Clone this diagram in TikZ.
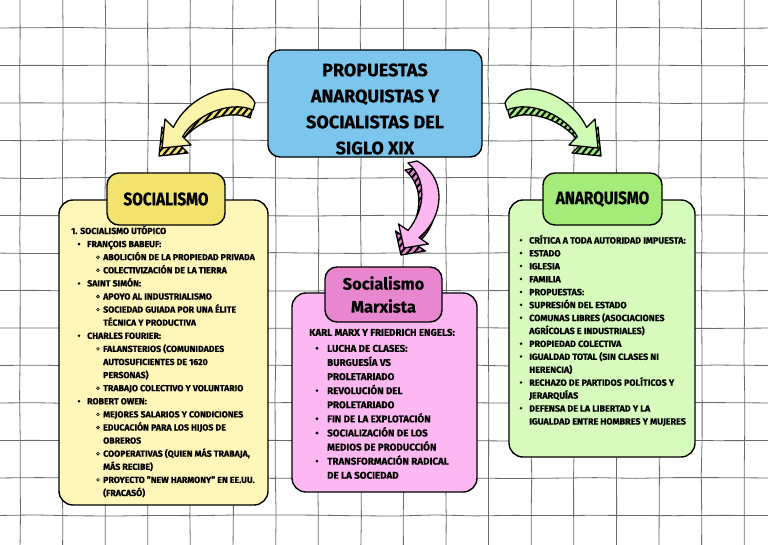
\documentclass[tikz,border=0pt]{standalone}
\usepackage{fontspec}
\setmainfont{Fira Sans}[BoldFeatures={FakeBold=0.6}]
\newfontfamily\narrowfont{Fira Sans}[FakeStretch=0.85, BoldFeatures={FakeBold=0.6}]
\usetikzlibrary{positioning,decorations.pathmorphing,patterns.meta}
\definecolor{gridgray}{HTML}{6A6A6A}
\definecolor{sky}{HTML}{7CC6EE}
\definecolor{lemon}{HTML}{F2E36F}
\definecolor{lemonlight}{HTML}{FFF6B9}
\definecolor{lemonfront}{HTML}{FBF3A8}
\definecolor{rose}{HTML}{E887CF}
\definecolor{roselight}{HTML}{FDB8F1}
\definecolor{lime}{HTML}{A5EB7A}
\definecolor{limelight}{HTML}{D6FBBC}
\definecolor{limefront}{HTML}{CFFBB4}

% outlines of the bent arrows (pixel coordinates)
\def\bentpath{(505,103) .. controls (518,75) and (570,92) .. (586.6,127.4) -- (595,119) -- (598,148) -- (569,145) -- (577.4,136.6) .. controls (565,115) and (530,100) .. (507,110) -- cycle}
\def\downpath{(408,163) -- (417,161) .. controls (446,176) and (446,215) .. (419,237.6) -- (428.4,244) -- (404,248) -- (398.6,224) -- (408,230.4) .. controls (425,210) and (428,180) .. (408,163) -- cycle}

% #1 path, #2 front colour, #3 side colour, #4 shift of the side
\newcommand{\solidarrow}[4]{%
  \begin{scope}[shift={#4}]
    \fill[#3] #1;
    \fill[pattern={Lines[angle=50,distance=5pt,line width=2pt]}, pattern color=black] #1;
    \draw[line width=1.3pt, line join=round] #1;
  \end{scope}
  \filldraw[fill=#2, line width=1.3pt, line join=round] #1;}

\begin{document}
\begin{tikzpicture}[x=1pt,y=-1pt,
  gridline/.style={draw=gridgray, line width=0.8pt, decorate,
    decoration={random steps, segment length=40pt, amplitude=0.6pt}},
  box/.style={draw=black, line width=1.4pt, rounded corners=14pt, inner sep=0pt, outer sep=0pt},
  headbox/.style={box, rounded corners=12pt},
  headtext/.style={inner sep=0pt, font=\narrowfont\fontsize{18}{20}\selectfont\bfseries},
  soctext/.style={anchor=base west, inner sep=0pt, font=\fontsize{8.8}{10}\selectfont\bfseries},
  marxtext/.style={anchor=base west, inner sep=0pt, font=\fontsize{9.8}{12}\selectfont\bfseries},
  anartext/.style={anchor=base west, inner sep=0pt, font=\fontsize{9}{11}\selectfont\bfseries}]
  \pgfmathsetseed{7}
  \useasboundingbox (0,0) rectangle (768,544);
  \fill[white] (0,0) rectangle (768,544);

  % squared paper
  \foreach \k in {0,...,17}
    \draw[gridline] ({20+42.6*\k},-5) -- ({20+42.6*\k},550);
  \foreach \k in {0,...,13}
    \draw[gridline] (-5,{28+37.5*\k}) -- (775,{28+37.5*\k});

  % bent arrows
  \solidarrow{\bentpath}{limefront}{lime}{(3,8)}
  \begin{scope}[shift={(760,0)}, xscale=-1]
    \solidarrow{\bentpath}{lemonfront}{lemon}{(3,8)}
  \end{scope}
  \solidarrow{\downpath}{roselight}{rose}{(-3,7)}

  % title
  \node[box, rounded corners=12pt, fill=sky, minimum width=214pt, minimum height=107pt] (title) at (375,103.5) {};
  \node[align=center, inner sep=0pt, font=\fontsize{18}{26}\selectfont\bfseries] (title-text) at (375,109)
    {PROPUESTAS\\ANARQUISTAS Y\\SOCIALISTAS DEL\\SIGLO XIX};

  % bodies
  \node[box, fill=lemonlight, minimum width=209pt, minimum height=305pt] (soc-body) at (163.5,352.5) {};
  \node[box, fill=roselight, minimum width=185pt, minimum height=199pt] (marx-body) at (384.5,392.5) {};
  \node[box, fill=limelight, minimum width=186pt, minimum height=257pt] (anar-body) at (602,328.5) {};

  % headers
  \node[headbox, fill=lemon, minimum width=118pt, minimum height=52pt] (soc-head) at (166,199) {};
  \node[headtext] (soc-title) at (soc-head) {SOCIALISMO};
  \node[headbox, fill=rose, minimum width=117pt, minimum height=55pt] (marx-head) at (383.5,294.5) {};
  \node[align=center, inner sep=0pt, font=\fontsize{16.5}{23}\selectfont\bfseries] (marx-title) at (marx-head) {Socialismo\\Marxista};
  \node[headbox, fill=lime, minimum width=119pt, minimum height=52pt] (anar-head) at (602.5,199) {};
  \node[headtext] (anar-title) at (anar-head) {ANARQUISMO};

  % socialismo list
  \foreach \tx/\bt/\txt [count=\i from 0] in {
      0/n/{1. SOCIALISMO UTÓPICO},
      16/f/{FRANÇOIS BABEUF:},
      32/o/{ABOLICIÓN DE LA PROPIEDAD PRIVADA},
      32/o/{COLECTIVIZACIÓN DE LA TIERRA},
      16/f/{SAINT SIMÓN:},
      32/o/{APOYO AL INDUSTRIALISMO},
      32/o/{SOCIEDAD GUIADA POR UNA ÉLITE},
      32/n/{TÉCNICA Y PRODUCTIVA},
      16/f/{CHARLES FOURIER:},
      32/o/{FALANSTERIOS (COMUNIDADES},
      32/n/{AUTOSUFICIENTES DE 1620},
      32/n/{PERSONAS)},
      32/o/{TRABAJO COLECTIVO Y VOLUNTARIO},
      16/f/{ROBERT OWEN:},
      32/o/{MEJORES SALARIOS Y CONDICIONES},
      32/o/{EDUCACIÓN PARA LOS HIJOS DE},
      32/n/{OBREROS},
      32/o/{COOPERATIVAS (QUIEN MÁS TRABAJA,},
      32/n/{MÁS RECIBE)},
      32/o/{PROYECTO "NEW HARMONY" EN EE.UU.},
      32/n/{(FRACASÓ)}} {
    \node[soctext] (soc-\i) at ({71+\tx},{234+13.1*\i}) {\txt};
    \if\bt f\fill ({71+\tx-8},{234+13.1*\i-3}) circle (1.4pt);\fi
    \if\bt o\draw[line width=0.6pt] ({71+\tx-5},{234+13.1*\i-3}) circle (1.4pt);\fi
  }

  % marxismo list
  \node[marxtext] (marx-0) at (309,335.8) {KARL MARX Y FRIEDRICH ENGELS:};
  \foreach \bt/\txt [count=\i] in {
      f/{LUCHA DE CLASES:},
      n/{BURGUESÍA VS},
      n/{PROLETARIADO},
      f/{REVOLUCIÓN DEL},
      n/{PROLETARIADO},
      f/{FIN DE LA EXPLOTACIÓN},
      f/{SOCIALIZACIÓN DE LOS},
      n/{MEDIOS DE PRODUCCIÓN},
      f/{TRANSFORMACIÓN RADICAL},
      n/{DE LA SOCIEDAD}} {
    \node[marxtext] (marx-\i) at (327,{351.8+14.1*(\i-1)}) {\txt};
    \if\bt f\fill (317,{351.8+14.1*(\i-1)-3.5}) circle (1.6pt);\fi
  }

  % anarquismo list
  \foreach \bt/\txt [count=\i from 0] in {
      f/{CRÍTICA A TODA AUTORIDAD IMPUESTA:},
      f/{ESTADO},
      f/{IGLESIA},
      f/{FAMILIA},
      f/{PROPUESTAS:},
      f/{SUPRESIÓN DEL ESTADO},
      f/{COMUNAS LIBRES (ASOCIACIONES},
      n/{AGRÍCOLAS E INDUSTRIALES)},
      f/{PROPIEDAD COLECTIVA},
      f/{IGUALDAD TOTAL (SIN CLASES NI},
      n/{HERENCIA)},
      f/{RECHAZO DE PARTIDOS POLÍTICOS Y},
      n/{JERARQUÍAS},
      f/{DEFENSA DE LA LIBERTAD Y LA},
      n/{IGUALDAD ENTRE HOMBRES Y MUJERES}} {
    \node[anartext] (anar-\i) at (529,{243.5+12.93*\i}) {\txt};
    \if\bt f\fill (521,{243.5+12.93*\i-3.3}) circle (1.4pt);\fi
  }
\end{tikzpicture}
\end{document}
